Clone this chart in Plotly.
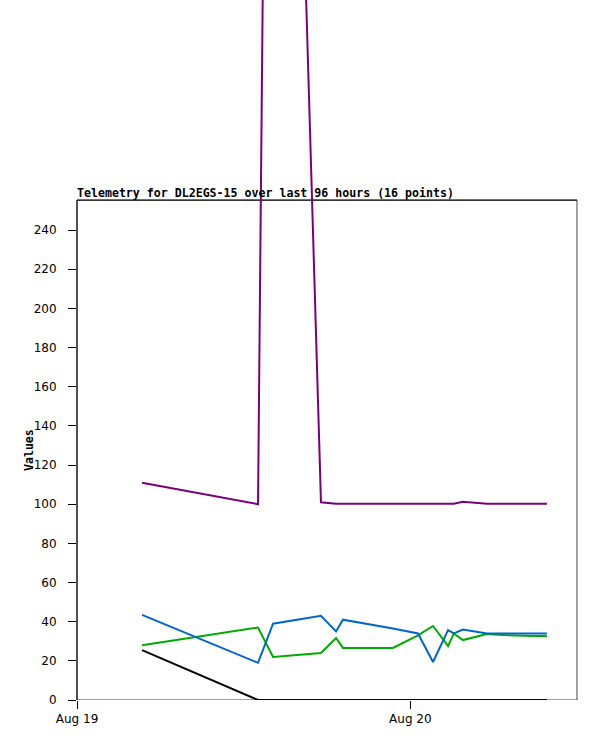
import plotly.graph_objects as go

# === data ===
times = [
    "2024-08-19 04:41", "2024-08-19 13:02", "2024-08-19 14:07", "2024-08-19 17:34",
    "2024-08-19 18:39", "2024-08-19 19:09", "2024-08-19 22:45", "2024-08-20 00:33",
    "2024-08-20 01:38", "2024-08-20 02:43", "2024-08-20 03:08", "2024-08-20 03:47",
    "2024-08-20 05:31", "2024-08-20 06:40", "2024-08-20 08:46", "2024-08-20 09:50",
]
purple_vals = [111, 100, 930, 101, 100.2, 100.2, 100.2, 100.2,
               100.2, 100.2, 100.2, 101.2, 100.2, 100.2, 100.2, 100.2]
blue_vals = [43.5, 19, 39, 43, 35, 41, 36.5, 34,
             19.4, 35.7, 34, 36, 34, 34, 34, 34]
green_vals = [28, 37, 22, 24, 31.7, 26.6, 26.6, 33,
              37.8, 27.6, 34, 30.6, 33.7, 33.2, 32.7, 32.7]
black_vals = [25.5, 0, 0, 0, 0, 0, 0, 0,
              0, 0, 0, 0, 0, 0, 0, 0]

y_ticks = [0, 20, 40, 60, 80, 100, 120, 140, 160, 180, 200, 220, 240]
x_ticks = ["2024-08-19", "2024-08-20"]
x_range = ["2024-08-19 00:00", "2024-08-20 12:00"]

title = "Telemetry for DL2EGS-15 over last 96 hours (16 points)"

# frame top (value) and full visible top (lines escape the frame in the original)
frame_top = 255.3
y_top = 357.5

mono = "DejaVu Sans Mono"

fig = go.Figure()
series = [
    (purple_vals, "#7a007a"),
    (black_vals, "#000000"),
    (green_vals, "#00aa00"),
    (blue_vals, "#0066cc"),
]
for vals, col in series:
    fig.add_trace(go.Scatter(
        x=times, y=vals, mode="lines",
        line=dict(color=col, width=2),
        showlegend=False,
    ))

# plot frame only up to frame_top
fig.add_shape(type="rect", xref="paper", yref="y", x0=0, x1=1, y0=0, y1=frame_top,
              line=dict(color="#444444", width=1), layer="below")
fig.add_shape(type="line", xref="paper", yref="y", x0=0, x1=1, y0=frame_top, y1=frame_top,
              line=dict(color="#000000", width=1), layer="below")
fig.add_shape(type="line", xref="paper", yref="y", x0=0, x1=0, y0=0, y1=frame_top,
              line=dict(color="#000000", width=1), layer="below")

fig.add_annotation(text="<b>" + title + "</b>", xref="paper", yref="y",
                   x=0, y=frame_top, xanchor="left", yanchor="bottom",
                   showarrow=False, yshift=-2, xshift=-2,
                   font=dict(family=mono, size=11.6, color="#000000"))
fig.add_annotation(text="<b>Values</b>", xref="paper", yref="y",
                   x=0, y=frame_top / 2, xshift=-48, textangle=-90,
                   xanchor="center", yanchor="middle",
                   showarrow=False,
                   font=dict(family=mono, size=11.6, color="#000000"))

fig.update_layout(
    width=597, height=741,
    margin=dict(l=77, r=20, t=0, b=41),
    paper_bgcolor="white", plot_bgcolor="white",
    font=dict(family="DejaVu Sans", size=12, color="#000000"),
    showlegend=False,
)
fig.update_xaxes(
    range=x_range, tickvals=x_ticks, tickformat="%b %d",
    ticks="outside", ticklen=8, tickcolor="#000000",
    showgrid=False, zeroline=False, showline=False,
)
fig.update_yaxes(
    range=[0, y_top], tickvals=y_ticks,
    ticks="outside", ticklen=8, tickcolor="#000000", ticklabelstandoff=9,
    showgrid=False, zeroline=False, showline=False,
)

# drop the default page margin so the chart sits at the window's corner
fig.write_html("out.html", config={"displayModeBar": False},
               post_script="document.body.style.margin='0';")
